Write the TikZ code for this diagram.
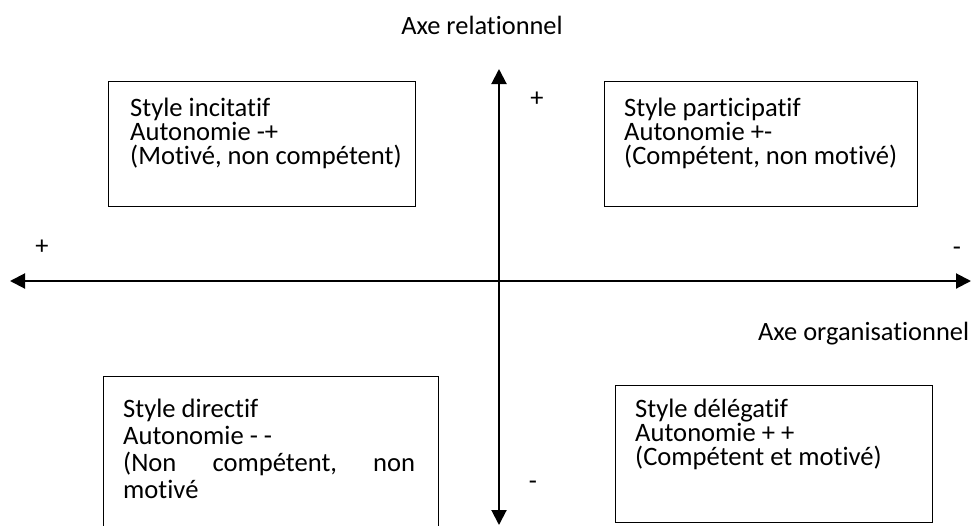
\documentclass[tikz,border=0pt]{standalone}
\usepackage{fontspec}
\setmainfont{Carlito}[Ligatures={NoCommon}]
\usetikzlibrary{arrows.meta}

\begin{document}
\begin{tikzpicture}
[x=1pt,y=1pt,
  axisDecorate/.style={<->,>={Triangle[length=15pt,width=15pt]},line width=2pt},%
  boxDecorate/.style={draw,line width=1.3pt,anchor=north west,inner sep=0pt},%
  textDecorate/.style={anchor=north west,align=left,inner sep=0pt,
    font=\fontsize{26.6}{24}\selectfont},%
  labelDecorate/.style={inner sep=0pt,font=\fontsize{26.4}{26}\selectfont}]
\useasboundingbox (0,0) rectangle (972,-525);
\clip (0,0) rectangle (972,-525);
%% boxes
\foreach \boxname/\x/\y/\w/\h in {
  inc/108/81/307/125, par/604/81/313/125, dir/103/376/335/170, del/615/385/317/137}
{
  \node (\boxname) at (\x,-\y) [boxDecorate,minimum width=\w,minimum height=\h] {};
}
%% texts in the boxes
\node (incText) at ([shift={(22,-17)}]inc.north west) [textDecorate]
  {Style incitatif\\Autonomie -+\\(Motivé, non compétent)};
\node (parText) at ([shift={(20,-17)}]par.north west) [textDecorate]
  {Style participatif\\Autonomie +-\\(Compétent, non motivé)};
\node (dirText) at ([shift={(20,-23)}]dir.north west)
  [textDecorate,font=\fontsize{26.6}{27}\selectfont]
  {Style directif\\Autonomie - -\\\hbox to 292pt{(Non\hfill compétent,\hfill non}\\motivé};
\node (delText) at ([shift={(20,-14)}]del.north west) [textDecorate]
  {Style délégatif\\Autonomie + +\\(Compétent et motivé)};
%% axes
\coordinate (west) at (10,-281);
\coordinate (east) at (971,-281);
\coordinate (north) at (499,-69);
\coordinate (south) at (499,-525);
\draw[axisDecorate] (west) -- (east);
\draw[axisDecorate] (north) -- (south);
%% labels
\node (relLabel) at (482,-34) [labelDecorate,anchor=base] {Axe relationnel};
\node (orgLabel) at (758,-340) [labelDecorate,anchor=base west] {Axe organisationnel};
\node (plusTop) at (537,-99) [labelDecorate] {+};
\node (minusBottom) at (533,-485) [labelDecorate] {-};
\node (plusLeft) at (42,-247) [labelDecorate] {+};
\node (minusRight) at (957,-251) [labelDecorate] {-};
\end{tikzpicture}
\end{document}
